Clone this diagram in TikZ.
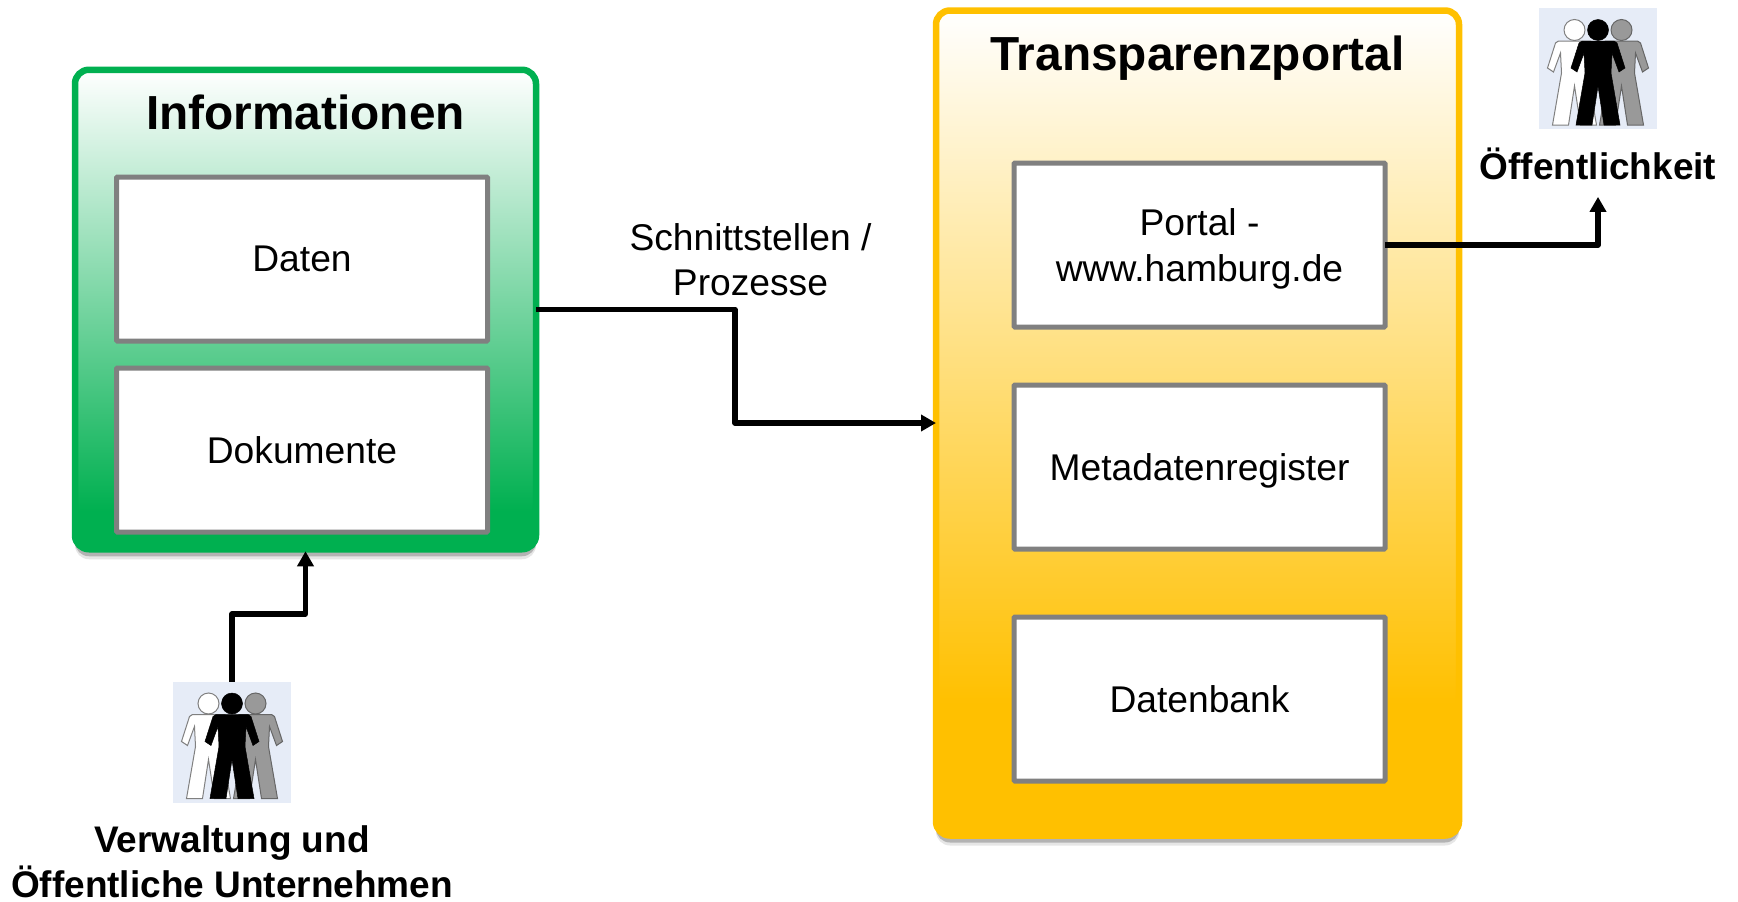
\documentclass[tikz,border=0pt]{standalone}
\usepackage{fontspec}
\setmainfont{Liberation Sans}
\usetikzlibrary{shadows,arrows.meta,positioning}

\definecolor{infogreen}{HTML}{00B050}
\definecolor{portalgold}{HTML}{FFC000}
\definecolor{boxgray}{HTML}{808080}
\definecolor{iconblue}{HTML}{E6ECF7}
\pgfdeclareverticalshading{infofade}{100bp}{color(0bp)=(infogreen); color(29bp)=(infogreen); color(75bp)=(white); color(100bp)=(white)}
\pgfdeclareverticalshading{portalfade}{100bp}{color(0bp)=(portalgold); color(33bp)=(portalgold); color(75bp)=(white); color(100bp)=(white)}

\newcommand{\bodysize}{\fontsize{37.2}{45.6}\selectfont}

\tikzset{
    softshadow/.style={
        general shadow={shadow xshift=0pt, shadow yshift=-10pt, opacity=.2, fill=gray},
        general shadow={shadow xshift=0pt, shadow yshift=-7pt, opacity=.5, fill=gray}
    },
    person/.pic={
        \path[pic actions] (0,22) circle (10.5pt);
        \path[pic actions] (-16,33) -- (16,33) -- (19,35) -- (27,60) -- (21,64) -- (14,45) -- (13,65) -- (22,117)
            -- (6,117) -- (0,78) -- (-6,117) -- (-22,117) -- (-13,65) -- (-14,45) -- (-21,64) -- (-27,60) -- (-19,35) -- cycle;
    }
}

\begin{document}
\begin{tikzpicture}[
    x=1pt, y=-1pt,
    infobox/.style={rectangle, rounded corners=14pt, draw=infogreen, line width=6.5pt, outer sep=0pt, shading=infofade, minimum width=461pt, minimum height=479.5pt, softshadow},
    portalbox/.style={rectangle, rounded corners=14pt, draw=portalgold, line width=6.5pt, outer sep=0pt, shading=portalfade, minimum width=523pt, minimum height=825pt, softshadow},
    innerbox/.style={rectangle, rounded corners=1pt, draw=boxgray, fill=white, line width=5pt, outer sep=0pt, minimum width=371pt, minimum height=164pt, text depth=0pt, align=center, font=\bodysize},
    boxtitle/.style={anchor=base, inner sep=0pt, font=\fontsize{47.8}{56}\selectfont\bfseries},
    ifacetext/.style={inner sep=0pt, align=center, font=\bodysize},
    actor/.style={inner sep=0pt, align=center, font=\fontsize{37}{45.6}\selectfont\bfseries},
    crowd/.style={rectangle, fill=iconblue, outer sep=0pt, minimum width=118pt, minimum height=121pt},
    arrow/.style={line width=5.5pt, line join=round, -{Triangle[width=16pt,length=15pt]}}
]

\useasboundingbox (0,0) rectangle (1738,902);

% Information block
\node[infobox] (info) at (305.5,309.5) {};
\node[innerbox] (daten) at (302,259) {Daten};
\node[innerbox, below=27pt of daten] (dokumente) {Dokumente};
\node[boxtitle] (infotitle) at ([yshift=-60pt]info.north) {Informationen};

% Portal block
\node[portalbox] (portal) at (1197.5,423) {};
\node[innerbox] (web) at (1199.5,245) {Portal -\\www.hamburg.de};
\node[innerbox, below=58pt of web] (meta) {Metadatenregister};
\node[innerbox, below=68pt of meta] (datenbank) {Datenbank};
\node[boxtitle] (portaltitle) at ([yshift=-59.5pt]portal.north) {Transparenzportal};

% People
\node[crowd] (staff) at (232,742) {};
\node[crowd] (public) at (1598,68.5) {};
\foreach \who in {staff,public} {
    \pic[draw=gray, fill=white, line width=1pt] at ([xshift=-23.5pt]\who.north) {person};
    \pic[draw=gray!80!black, fill=gray!80, line width=1pt] at ([xshift=23.5pt]\who.north) {person};
    \pic[draw=black, fill=black, line width=.5pt] at (\who.north) {person};
}
\node[actor, below=22.5pt of staff] (stafflabel) {Verwaltung und\\Öffentliche Unternehmen};
\node[actor, below=18.5pt of public] (publiclabel) {Öffentlichkeit};

% Interface label
\node[ifacetext] (iface) at (750.5,259.6) {Schnittstellen /\\Prozesse};

% Connections
\draw[arrow] (info.east) -- ++(199,0) |- (portal.west);
\draw[arrow, shorten >=17pt] (web.east) -| (publiclabel.south);
\draw[arrow, shorten >=2pt] (staff.north) -- ++(0,-67.5) -| (info.south);

\end{tikzpicture}
\end{document}
